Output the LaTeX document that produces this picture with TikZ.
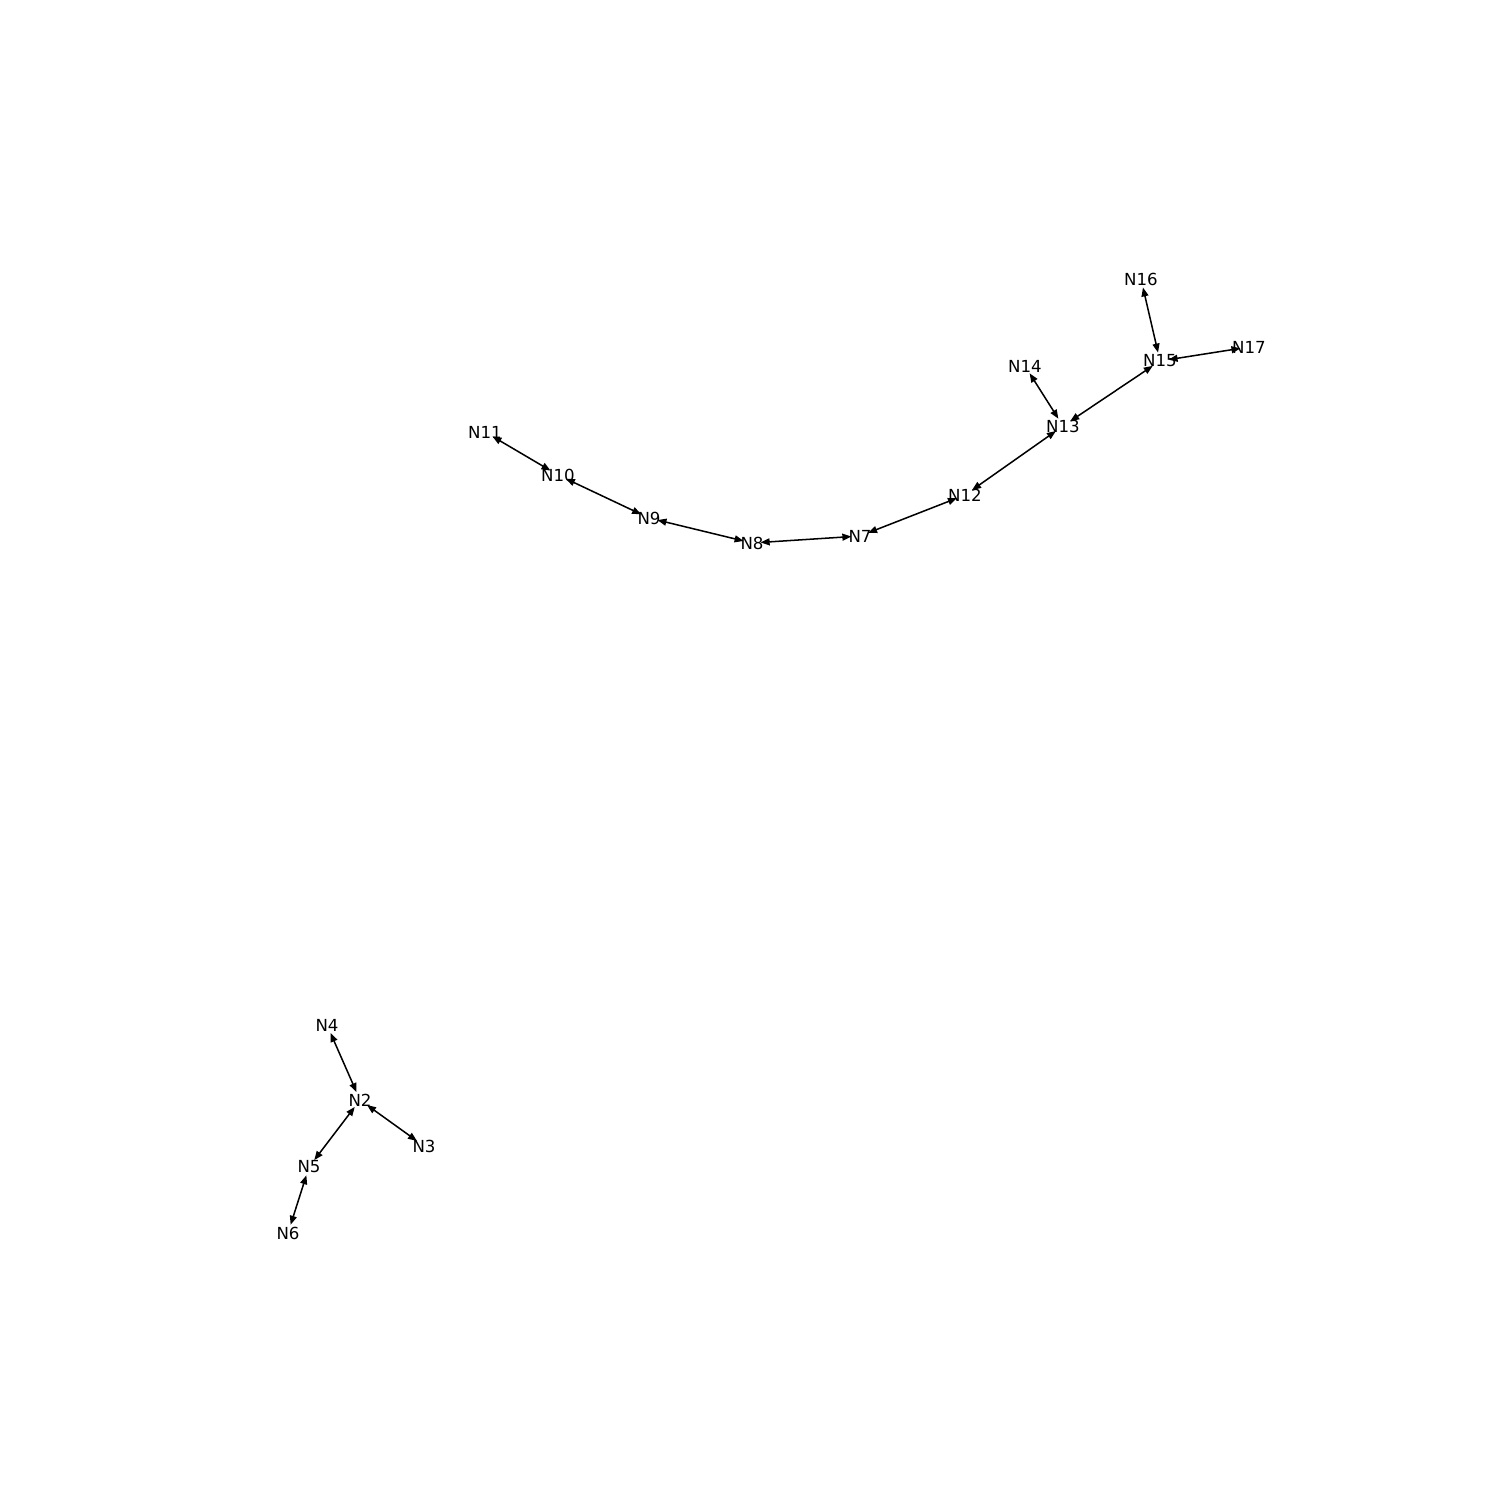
\documentclass[tikz,border=0pt]{standalone}
\usepackage{fontspec}
\setmainfont{DejaVu Sans}
\usetikzlibrary{arrows.meta}
\begin{document}
\begin{tikzpicture}[x=0.254mm,y=-0.254mm,
  lbl/.style={inner sep=0pt,font=\fontsize{12}{14}\selectfont},
  edge/.style={{Triangle[length=6.5pt,width=5pt]}-{Triangle[length=6.5pt,width=5pt]},line width=1.1pt,shorten <=2.2mm,shorten >=2.2mm}]
\useasboundingbox (0,0) rectangle (1500,1500);
\node[lbl] (N16) at (1141,279) {N16};
\node[lbl] (N17) at (1249,347) {N17};
\node[lbl] (N15) at (1160,361) {N15};
\node[lbl] (N14) at (1025,366) {N14};
\node[lbl] (N13) at (1063,426) {N13};
\node[lbl] (N12) at (965,495) {N12};
\node[lbl] (N7) at (860,536) {N7};
\node[lbl] (N8) at (752,543) {N8};
\node[lbl] (N9) at (649,518) {N9};
\node[lbl] (N10) at (558,475) {N10};
\node[lbl] (N11) at (485,432) {N11};
\node[lbl] (N4) at (327,1025) {N4};
\node[lbl] (N2) at (360,1100) {N2};
\node[lbl] (N3) at (424,1146) {N3};
\node[lbl] (N5) at (309,1167) {N5};
\node[lbl] (N6) at (288,1233) {N6};
\foreach \a/\b in {N16/N15,N15/N17,N14/N13,N13/N15,N13/N12,N12/N7,N7/N8,N8/N9,N9/N10,N10/N11,N4/N2,N2/N3,N2/N5,N5/N6}
  \draw[edge] (\a.center) -- (\b.center);
\end{tikzpicture}
\end{document}
